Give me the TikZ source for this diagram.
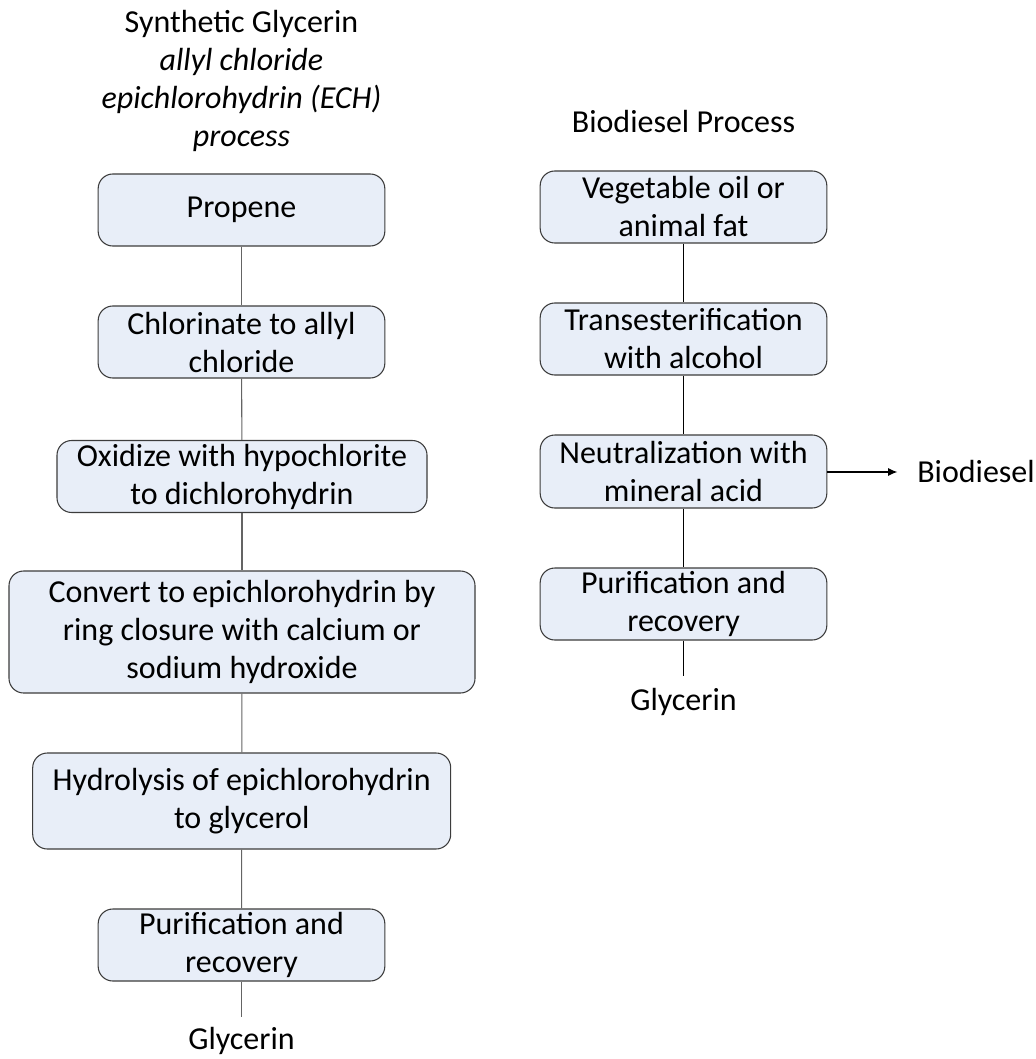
\documentclass[tikz,border=0pt]{standalone}
\usepackage{fontspec}
\setmainfont{Carlito}
\usepackage{xcolor}
\usepackage{tikz}
\usetikzlibrary{positioning,arrows.meta}

\definecolor{boxfill}{RGB}{232,238,248}
\definecolor{boxline}{RGB}{60,60,60}
\definecolor{linkgray}{RGB}{100,100,100}

\begin{document}
\begin{tikzpicture}[x=0.75pt, y=-0.75pt,
	every node/.style={font=\fontsize{24}{28.5}\selectfont, align=center, inner sep=0pt},
	stepbox/.style={rectangle, rounded corners=11pt, draw=boxline, fill=boxfill, line width=0.8pt, minimum width=215pt, minimum height=54pt},
	link/.style={draw=linkgray, line width=0.8pt}]
	\useasboundingbox (0,0) rectangle (1035,1059);

	% synthetic glycerin column
	\node (synth) at (241.5,81) {Synthetic Glycerin\\\itshape allyl chloride\\\itshape epichlorohydrin (ECH)\\\itshape process};
	\node[stepbox] (propene) at (241.5,210) {Propene};
	\node[stepbox] (chlor) at (241.5,342) {Chlorinate to allyl\\chloride};
	\node[stepbox, minimum width=277.5pt] (oxid) at (242,476.5) {Oxidize with hypochlorite\\to dichlorohydrin};
	\node[stepbox, minimum width=349.5pt, minimum height=91.5pt] (conv) at (242,632) {Convert to epichlorohydrin by\\ring closure with calcium or\\sodium hydroxide};
	\node[stepbox, minimum width=313.5pt, minimum height=72pt] (hydro) at (241.7,801) {Hydrolysis of epichlorohydrin\\to glycerol};
	\node[stepbox] (purL) at (241.5,945) {Purification and\\recovery};
	\coordinate (endL) at (241.5,1017);
	\node (glyL) at (241.5,1041) {Glycerin};

	\draw[link] (propene) -- (chlor);
	\draw[link] (chlor) -- (oxid);
	\draw[link] (oxid) -- (conv);
	\draw[link] (conv) -- (hydro);
	\draw[link] (hydro) -- (purL);
	\draw[link] (purL) -- (endL);

	% biodiesel column
	\node (bio) at (683.5,122) {Biodiesel Process};
	\node[stepbox] (veg) at (683.5,207) {Vegetable oil or\\animal fat};
	\node[stepbox] (trans) at (683.5,339) {Transesterification\\with alcohol};
	\node[stepbox, minimum height=54.75pt] (neut) at (683.5,471.5) {Neutralization with\\mineral acid};
	\node[stepbox] (purR) at (683.5,604) {Purification and\\recovery};
	\coordinate (endR) at (683.5,676);
	\node (glyR) at (683.5,702) {Glycerin};
	\node[anchor=west] (biod) at (917,472) {Biodiesel};

	\draw[link, draw=black] (veg) -- (trans);
	\draw[link, draw=black] (trans) -- (neut);
	\draw[link, draw=black] (neut) -- (purR);
	\draw[link, draw=black] (purR) -- (endR);
	\draw[link, draw=black, -{Latex[length=7pt, width=6pt]}] (neut.east |- biod) -- ++(70,0);
\end{tikzpicture}
\end{document}
